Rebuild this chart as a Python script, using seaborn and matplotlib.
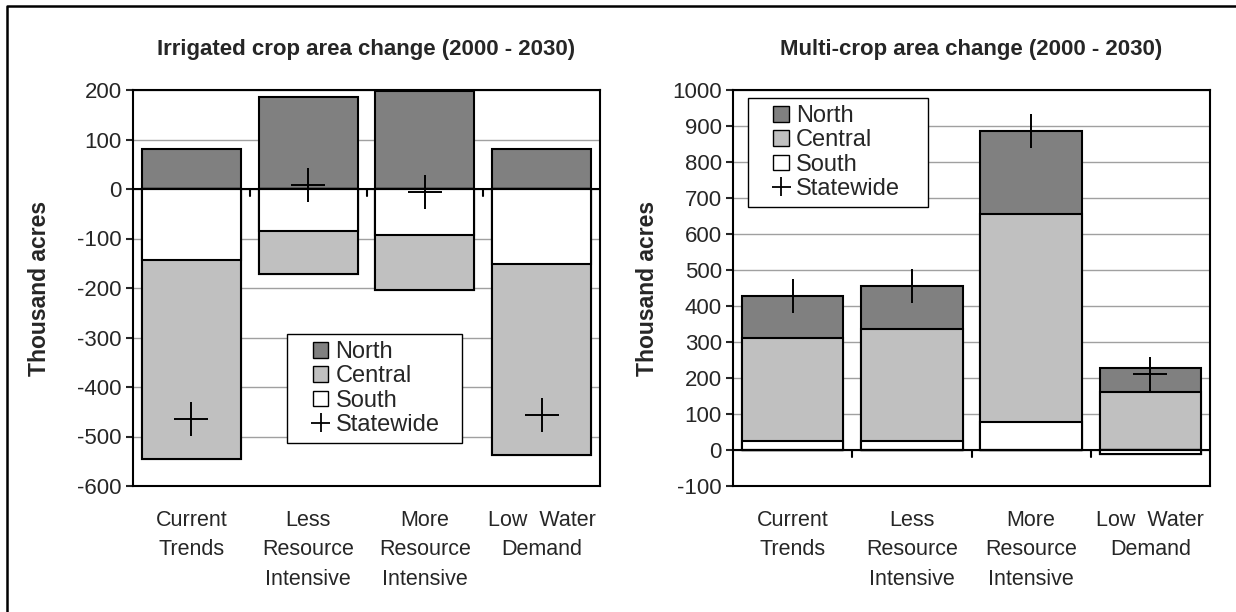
import numpy as np
import pandas as pd
import seaborn as sns
import matplotlib.pyplot as plt
from matplotlib.patches import Patch, Rectangle, PathPatch
from matplotlib.lines import Line2D
from matplotlib.path import Path
from matplotlib.legend_handler import HandlerPatch

# ------------------- DATA -------------------

scenarios = ["Current\nTrends", "Less\nResource\nIntensive",
             "More\nResource\nIntensive", "Low  Water\nDemand"]

# irrigated crop area change (thousand acres)
irr_north = [80, 185, 197, 80]
irr_central = [-401, -88, -112, -385]
irr_south = [-144, -84, -93, -152]
irr_statewide = [-465, 9, -7, -457]

# multi-crop area change (thousand acres)
multi_north = [117, 118, 230, 66]
multi_central = [285, 311, 578, 162]
multi_south = [26, 26, 77, -10]
multi_statewide = [428, 455, 885, 212]

region_colors = {"North": "#808080", "Central": "#C0C0C0", "South": "#FFFFFF"}

# ------------------- STYLE -------------------

sns.set_style("white")
plt.rcParams['font.family'] = ['Liberation Sans', 'DejaVu Sans']
plt.rcParams['axes.unicode_minus'] = False


# legend keys sit at the right end of the handle box (excel look)
def square_key(legend, orig_handle, xdescent, ydescent, width, height, fontsize):
    side = height
    return Rectangle((width - xdescent - side, -ydescent), side, side)


def plus_key(legend, orig_handle, xdescent, ydescent, width, height, fontsize):
    side = height * 1.2
    cx = width - xdescent - height / 2
    cy = -ydescent + height / 2
    verts = [(cx - side / 2, cy), (cx + side / 2, cy), (cx, cy - side / 2), (cx, cy + side / 2)]
    codes = [Path.MOVETO, Path.LINETO, Path.MOVETO, Path.LINETO]
    return PathPatch(Path(verts, codes))


def stacked_panel(ax, north, central, south, statewide, title, ylim, legend_box):
    df = pd.DataFrame({"scenario": scenarios, "North": north,
                       "Central": central, "South": south})
    order = ["South", "Central", "North"]
    pos = df[order].clip(lower=0).cumsum(axis=1)
    neg = df[order].clip(upper=0).cumsum(axis=1)

    # draw cumulative layers from the outermost in, so each region shows its own slice
    for region in reversed(order):
        for part in (pos, neg):
            sns.barplot(x=df["scenario"], y=part[region], order=scenarios,
                        color=region_colors[region], saturation=1, width=0.85,
                        edgecolor="black", linewidth=1.5, ax=ax, zorder=2)

    sns.scatterplot(x=scenarios, y=statewide, marker="+", s=570, color="black",
                    linewidth=1.4, ax=ax, zorder=4, legend=False)

    ax.axhline(0, color="black", lw=1.5, zorder=3)
    # category separators on the zero line
    for i in range(len(scenarios) - 1):
        ax.plot([i + 0.5, i + 0.5], [0, -(ylim[1] - ylim[0]) * 0.018],
                color="black", lw=1.5, zorder=3, clip_on=False)

    ax.set_ylim(*ylim)
    ax.set_xlim(-0.5, len(scenarios) - 0.5)
    ax.set_yticks(np.arange(ylim[0], ylim[1] + 1, 100))
    ax.yaxis.grid(True, color="#A0A0A0", lw=1)
    ax.set_axisbelow(True)
    for s in ax.spines.values():
        s.set_visible(True)
        s.set_color("black")
        s.set_linewidth(1.5)
    ax.tick_params(axis="y", length=5, width=1.5, pad=3, labelsize=16, left=True)
    ax.tick_params(axis="x", length=0, pad=17, labelsize=15.5)
    for lab in ax.get_xticklabels():
        lab.set_linespacing(1.55)
        lab.set_multialignment("center")
    ax.set_xlabel("")
    ax.set_ylabel("Thousand acres", fontsize=16.5, fontweight="bold")
    ax.set_title(title, fontsize=16, fontweight="bold", pad=25)

    handles = [Patch(facecolor=region_colors[r], edgecolor="black", lw=1, label=r)
               for r in ["North", "Central", "South"]]
    state_handle = Patch(facecolor="none", edgecolor="black", lw=1.3, label="Statewide")
    handles.append(state_handle)
    leg = ax.legend(handles=handles, loc="upper left", bbox_to_anchor=legend_box,
                    mode="expand", fontsize=17, frameon=True, fancybox=False,
                    framealpha=1, edgecolor="black", labelspacing=0.1,
                    handlelength=1.45, handleheight=0.65, handletextpad=0.3,
                    borderpad=0.3, borderaxespad=0,
                    handler_map={state_handle: HandlerPatch(patch_func=plus_key),
                                 Patch: HandlerPatch(patch_func=square_key)})
    leg.get_frame().set_linewidth(1)


# ------------------- FIGURE -------------------

fig = plt.figure(figsize=(12.36, 6.12), dpi=100)
ax1 = fig.add_axes([133 / 1236, 126 / 612, 467 / 1236, 396 / 612])
ax2 = fig.add_axes([733 / 1236, 126 / 612, 477 / 1236, 396 / 612])

stacked_panel(ax1, irr_north, irr_central, irr_south, irr_statewide,
              "Irrigated crop area change (2000 - 2030)", (-600, 200),
              (0.33, 0.284, 0.375, 0.1))
stacked_panel(ax2, multi_north, multi_central, multi_south, multi_statewide,
              "Multi-crop area change (2000 - 2030)", (-100, 1000),
              (0.031, 0.88, 0.377, 0.1))

ax1.yaxis.set_label_coords(-0.175, 0.5)
ax2.yaxis.set_label_coords(-0.155, 0.5)

# outer frame (top and left edges visible in the original)
fig.add_artist(Line2D([7 / 1236, 7 / 1236, 1], [0, 1 - 6 / 612, 1 - 6 / 612],
                      transform=fig.transFigure, color="black", lw=1.8))

fig.savefig("out.png", dpi=100)
